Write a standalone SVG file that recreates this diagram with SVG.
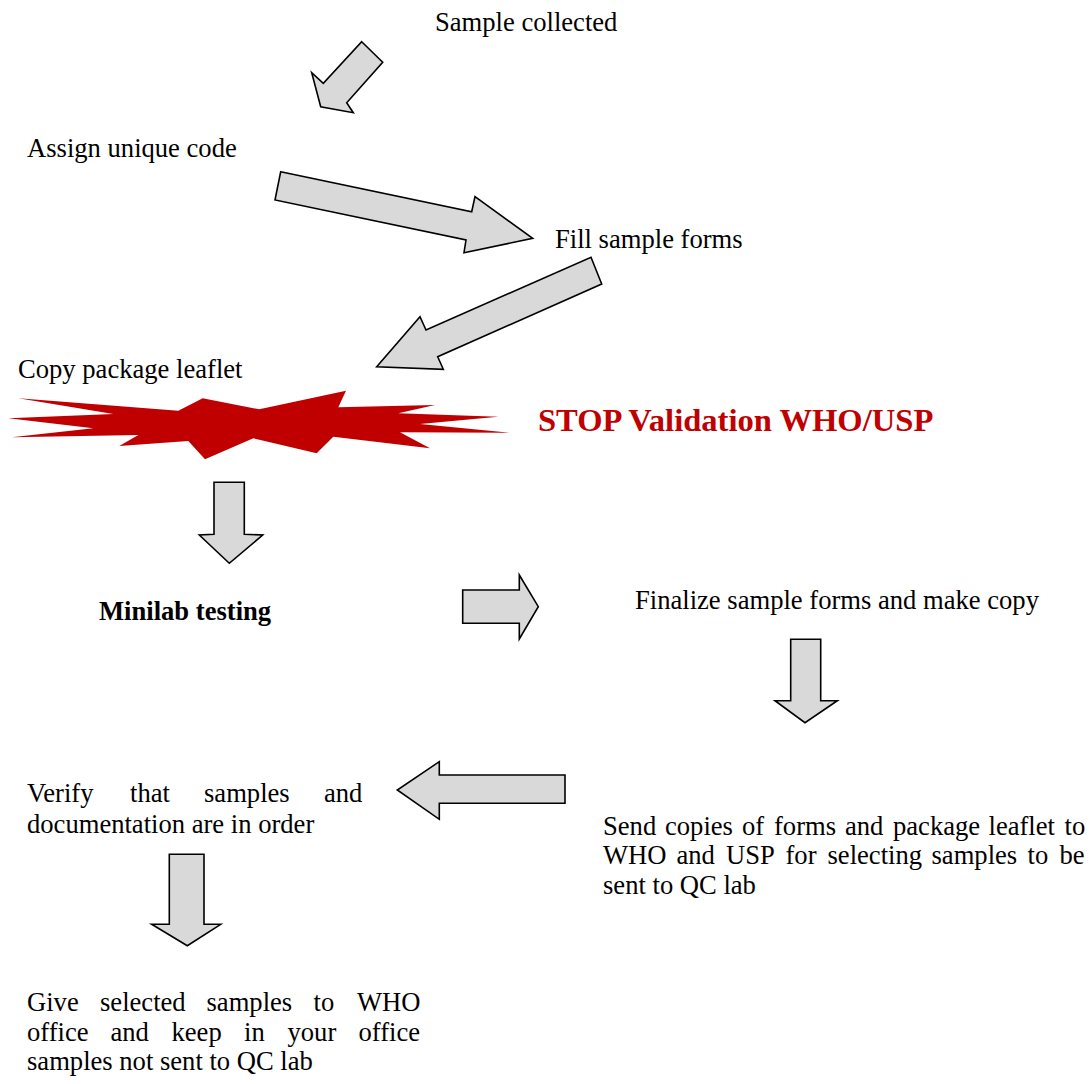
<svg xmlns="http://www.w3.org/2000/svg" width="1091" height="1084" viewBox="0 0 1091 1084">
<style>
.t{font-family:"Liberation Serif","Times New Roman",serif;font-size:26.6px;fill:#000}
.b{font-weight:bold}
.stop{font-family:"Liberation Serif","Times New Roman",serif;font-size:32.6px;font-weight:bold;fill:#C00000}
.arr{fill:#D9D9D9;stroke:#000;stroke-width:1.6;stroke-linejoin:miter}
</style>
<rect width="1091" height="1084" fill="#fff"/>
<g id="connectors">
<polygon class="arr" points="361.7,41.7 382.7,62.3 346.7,102.7 353.3,112.7 320.7,106.7 311.7,72.7 323.3,83.3"/>
<polygon class="arr" points="280.7,171.7 471.7,211.7 475,196.7 532.7,238.3 464,252.7 466,240 275,200"/>
<polygon class="arr" points="591,257.3 601.7,284 437.7,356.7 443.3,369.3 376.7,366.7 420,316.7 426,330"/>
<polygon class="arr" points="214,482.3 244.3,482.3 244.3,534.3 262.7,535 229.3,563.3 199.3,535 214,534.3"/>
<polygon class="arr" points="462.7,590 519.3,590 519.3,575 538.3,606.7 519.3,639 519.3,623.3 462.7,623.3"/>
<polygon class="arr" points="790.7,639.3 820.7,639.3 820.7,700.7 837.3,700.7 805,722.7 775,700.7 790.7,700.7"/>
<polygon class="arr" points="565,775 565,803.3 439.3,803.3 439.3,819.3 397.3,790 439.3,761.7 439.3,775"/>
<polygon class="arr" points="169.3,854.3 204,854.3 204,924.3 220.7,924.3 187.3,945.7 151.7,924.3 169.3,924.3"/>
</g>
<g id="stop">
<polygon fill="#C00000" points="18.3,398.3 178.3,410.7 202.7,398.3 259.3,409.3 346,390.7 338.3,407.3 435,405 398.3,413.3 498.3,416.7 420,424 510,432.7 400,432.3 430,448.3 333.3,436.7 316.7,453.3 253.3,438.3 205,459.3 188.3,441 119.3,446 138.3,435 11.7,437.3 93.3,428.3 8.3,418.3 113.3,414"/>
<text class="stop" x="538" y="431">STOP Validation WHO/USP</text>
</g>
<g id="n-sample-collected"><text class="t" x="435" y="31">Sample collected</text></g>
<g id="n-assign"><text class="t" x="27" y="157">Assign unique code</text></g>
<g id="n-fill"><text class="t" x="555" y="248">Fill sample forms</text></g>
<g id="n-copy"><text class="t" x="18" y="378">Copy package leaflet</text></g>
<g id="n-minilab"><text class="t b" x="99" y="620">Minilab testing</text></g>
<g id="n-finalize"><text class="t" x="635" y="609">Finalize sample forms and make copy</text></g>
<g id="n-verify"><text class="t" y="802"><tspan x="27">Verify</tspan><tspan x="130">that</tspan><tspan x="204">samples</tspan><tspan x="324">and</tspan></text>
<text class="t" x="27" y="833">documentation are in order</text></g>
<g id="n-send"><text class="t" y="835"><tspan x="603">Send</tspan><tspan x="665">copies</tspan><tspan x="742">of</tspan><tspan x="774">forms</tspan><tspan x="845">and</tspan><tspan x="893">package</tspan><tspan x="988.5">leaflet</tspan><tspan x="1064.5">to</tspan></text>
<text class="t" y="864"><tspan x="603">WHO</tspan><tspan x="676.5">and</tspan><tspan x="726">USP</tspan><tspan x="785.5">for</tspan><tspan x="827.5">selecting</tspan><tspan x="931.5">samples</tspan><tspan x="1027.5">to</tspan><tspan x="1059.5">be</tspan></text>
<text class="t" x="603" y="894">sent to QC lab</text></g>
<g id="n-give"><text class="t" y="1011"><tspan x="27">Give</tspan><tspan x="100">selected</tspan><tspan x="206.5">samples</tspan><tspan x="313.5">to</tspan><tspan x="357">WHO</tspan></text>
<text class="t" y="1041"><tspan x="27">office</tspan><tspan x="110.5">and</tspan><tspan x="171.5">keep</tspan><tspan x="244">in</tspan><tspan x="287.5">your</tspan><tspan x="358.5">office</tspan></text>
<text class="t" x="27" y="1070">samples not sent to QC lab</text></g>
</svg>
